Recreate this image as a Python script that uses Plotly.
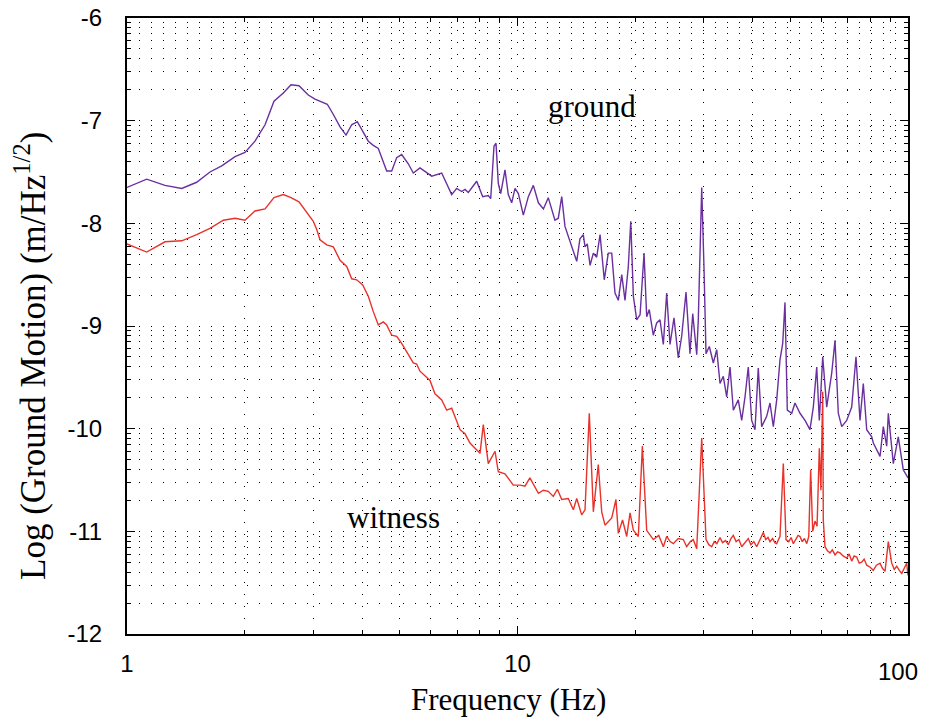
import math
import plotly.graph_objects as go

# ---------------- data ----------------
ground_freq = [1.00, 1.123, 1.251, 1.381, 1.508, 1.631, 1.748, 1.891, 2.005, 2.127,
               2.257, 2.379, 2.514, 2.630, 2.757, 2.912, 3.030, 3.258, 3.376, 3.512,
               3.638, 3.762, 3.889, 4.149, 4.273, 4.401, 4.624, 4.763, 4.905, 5.051,
               5.252, 5.410, 5.627, 6.030, 6.396, 6.784, 6.987, 7.196, 7.339, 7.482,
               7.862, 8.145, 8.418, 8.539, 8.706, 8.810, 8.929, 9.057, 9.290, 9.471,
               9.663, 9.854, 10.05, 10.35, 10.66, 10.98, 11.31, 11.65, 11.99, 12.47,
               12.72, 12.98, 13.23, 13.77, 14.18, 14.45, 14.74, 14.89, 15.09, 15.34,
               15.64, 15.95, 16.27, 16.68, 17.08, 17.43, 17.77, 18.12, 18.49, 18.85,
               19.22, 19.50, 19.80, 20.20, 20.60, 21.09, 21.42, 21.75, 22.27, 22.72,
               23.17, 23.63, 24.10, 24.58, 25.16, 25.81, 26.33, 27.01, 27.65, 28.10,
               28.77, 29.04, 29.63, 30.04, 30.39, 30.99, 31.73, 32.37, 33.01, 33.65,
               34.33, 35.01, 35.70, 36.76, 37.51, 38.25, 38.99, 39.78, 40.57, 41.36,
               42.20, 43.46, 44.32, 45.20, 46.11, 47.01, 47.77, 48.42, 49.08, 50.38,
               51.36, 52.90, 54.48, 56.10, 57.22, 58.38, 59.28, 60.48, 61.92, 63.77,
               65.03, 66.30, 67.65, 69.66, 71.75, 73.59, 75.36, 76.83, 78.39, 80.75,
               81.51, 84.79, 86.45, 88.20, 89.04, 91.70, 94.43, 97.25, 100.0]
ground_val = [-7.65, -7.57, -7.63, -7.66, -7.60, -7.50, -7.44, -7.35, -7.31, -7.20,
              -7.04, -6.81, -6.73, -6.65, -6.66, -6.75, -6.79, -6.84, -6.94, -7.06,
              -7.14, -7.04, -7.01, -7.20, -7.24, -7.27, -7.49, -7.49, -7.36, -7.33,
              -7.42, -7.51, -7.46, -7.54, -7.51, -7.72, -7.66, -7.69, -7.67, -7.70,
              -7.59, -7.74, -7.73, -7.76, -7.25, -7.22, -7.61, -7.71, -7.48, -7.72,
              -7.80, -7.66, -7.71, -7.92, -7.74, -7.63, -7.80, -7.86, -7.75, -7.97,
              -7.95, -7.74, -8.03, -8.23, -8.37, -8.15, -8.11, -8.23, -8.20, -8.41,
              -8.29, -8.33, -8.11, -8.55, -8.29, -8.29, -8.68, -8.75, -8.50, -8.75,
              -8.42, -7.98, -8.71, -8.94, -8.89, -8.29, -8.91, -8.84, -9.09, -8.97,
              -8.94, -9.18, -8.68, -9.18, -8.92, -9.31, -9.10, -8.67, -9.27, -8.88,
              -9.28, -8.94, -7.65, -8.45, -9.27, -9.20, -9.36, -9.23, -9.56, -9.49,
              -9.69, -9.40, -9.82, -9.72, -9.92, -9.69, -9.40, -9.92, -10.01, -9.41,
              -9.98, -9.88, -9.75, -9.98, -9.72, -9.33, -9.17, -8.77, -9.82, -9.85,
              -9.75, -9.85, -9.92, -10.01, -9.79, -9.40, -9.92, -9.30, -9.79, -9.46,
              -9.14, -9.85, -9.98, -9.92, -9.79, -9.30, -9.92, -9.56, -10.01, -10.08,
              -10.14, -10.27, -9.98, -10.17, -9.85, -10.34, -10.08, -10.40, -10.48]

witness_freq = [1.00, 1.123, 1.251, 1.381, 1.508, 1.631, 1.765, 1.891, 2.005, 2.127,
                2.257, 2.379, 2.514, 2.630, 2.757, 2.885, 3.000, 3.061, 3.121, 3.247,
                3.376, 3.512, 3.653, 3.762, 3.874, 4.014, 4.149, 4.273, 4.401, 4.533,
                4.624, 4.763, 4.905, 5.051, 5.203, 5.410, 5.519, 5.627, 5.969, 6.147,
                6.396, 6.588, 6.784, 6.987, 7.124, 7.339, 7.556, 8.017, 8.174, 8.418,
                8.759, 8.929, 9.290, 9.755, 10.15, 10.45, 10.76, 11.31, 11.65, 11.99,
                12.35, 12.65, 12.98, 13.49, 13.90, 14.18, 14.60, 14.89, 15.27, 15.64,
                16.10, 16.43, 16.75, 17.43, 17.87, 18.12, 18.58, 19.04, 19.42, 19.80,
                20.39, 20.88, 21.42, 22.27, 23.00, 23.63, 24.10, 24.60, 25.06, 25.80,
                26.58, 27.12, 27.70, 28.19, 28.77, 29.63, 30.04, 30.39, 30.90, 31.43,
                31.90, 32.40, 33.01, 33.50, 34.10, 34.66, 35.20, 35.70, 36.30, 36.90,
                37.51, 38.20, 38.99, 39.60, 40.30, 40.98, 41.70, 42.20, 42.62, 43.20,
                43.80, 44.32, 45.00, 45.60, 46.11, 46.60, 47.01, 47.94, 48.71, 49.50,
                50.20, 50.86, 51.60, 52.30, 52.90, 53.60, 54.30, 55.04, 55.70, 56.33,
                57.01, 57.79, 58.50, 59.28, 59.84, 60.48, 60.68, 61.30, 62.20, 63.14,
                64.00, 65.03, 66.00, 66.98, 68.20, 69.66, 70.70, 71.75, 72.80, 73.89,
                75.00, 76.11, 77.20, 78.39, 80.00, 81.51, 83.00, 84.79, 86.00, 87.33,
                89.04, 90.83, 92.20, 93.56, 95.00, 96.36, 97.80, 99.24, 100.0]
witness_val = [-8.20, -8.28, -8.18, -8.17, -8.11, -8.05, -7.97, -7.95, -7.97, -7.88,
               -7.86, -7.75, -7.72, -7.75, -7.79, -7.89, -7.98, -8.06, -8.16, -8.21,
               -8.23, -8.36, -8.42, -8.54, -8.55, -8.60, -8.71, -8.86, -8.99, -8.96,
               -8.99, -9.09, -9.10, -9.17, -9.25, -9.36, -9.37, -9.44, -9.53, -9.66,
               -9.72, -9.82, -9.80, -9.92, -10.01, -10.05, -10.14, -10.24, -9.96, -10.34,
               -10.22, -10.42, -10.44, -10.55, -10.55, -10.56, -10.48, -10.63, -10.60, -10.61,
               -10.66, -10.59, -10.69, -10.68, -10.79, -10.68, -10.84, -10.79, -9.85, -10.81,
               -10.35, -10.81, -10.94, -10.87, -10.69, -11.02, -10.89, -11.05, -10.82, -10.99,
               -11.05, -10.17, -10.99, -11.08, -11.04, -11.15, -11.05, -11.10, -11.12, -11.07,
               -11.08, -11.15, -11.10, -11.08, -11.17, -10.09, -10.70, -11.08, -11.13, -11.15,
               -11.10, -11.12, -11.06, -11.11, -11.09, -11.13, -11.07, -11.04, -11.10, -11.08,
               -11.15, -11.11, -11.07, -11.13, -11.10, -11.15, -11.09, -11.04, -11.01, -11.08,
               -11.06, -11.10, -11.07, -11.11, -11.12, -11.08, -11.05, -10.34, -11.08, -11.10,
               -11.06, -11.12, -11.08, -11.04, -11.05, -11.10, -11.07, -11.12, -11.05, -10.40,
               -11.00, -10.90, -10.95, -10.19, -10.60, -9.64, -10.89, -11.15, -11.19, -11.21,
               -11.18, -11.23, -11.20, -11.21, -11.24, -11.26, -11.22, -11.29, -11.24, -11.25,
               -11.31, -11.30, -11.27, -11.33, -11.35, -11.38, -11.33, -11.31, -11.36, -11.39,
               -11.10, -11.31, -11.37, -11.34, -11.38, -11.41, -11.36, -11.31, -11.43]

y_ticks = [-12, -11, -10, -9, -8, -7, -6]
y_tick_labels = ["-12", "-11", "-10", "-9", "-8", "-7", "-6"]
x_ticks = [1, 10, 100]
x_tick_labels = ["1", "10", ""]      # "100" is written separately, nudged left as in the original
x_last_label = "100"

# minor grid positions (log subdivisions)
x_minor = [m * d for d in (1, 10) for m in range(2, 10)]
y_minor = [base + math.log10(k) for base in range(-12, -6) for k in range(2, 10)]

PURPLE = "#6a309f"
RED = "#e8332b"
SERIF = "Liberation Serif, Times New Roman, serif"
SANS = "Liberation Sans, Arial, sans-serif"

# page body has an 8px margin: figure occupies page x 8..934, y 8..727
W, H = 926, 719
ML, MR, MT, MB = 119, 26, 10, 93
PW, PH = W - ML - MR, H - MT - MB   # plot area 781 x 616


def px(page_x):
    return (page_x - 8 - ML) / PW


def py(page_y):
    return (H - MB - (page_y - 8)) / PH


fig = go.Figure()
fig.add_trace(go.Scatter(x=ground_freq, y=ground_val, mode="lines",
                         line=dict(color=PURPLE, width=1.4), name="ground"))
fig.add_trace(go.Scatter(x=witness_freq, y=witness_val, mode="lines",
                         line=dict(color=RED, width=1.4), name="witness"))

dot = "1px,11px"
common = dict(showgrid=True, gridcolor="black", griddash=dot, gridwidth=1,
              ticks="inside", ticklen=8, tickcolor="black", tickwidth=1,
              showline=True, linecolor="black", linewidth=2, mirror="allticks",
              tickfont=dict(family=SANS, size=24, color="black"),
              ticklabeloverflow="allow",
              automargin=False, zeroline=False)
fig.update_xaxes(type="log", range=[0, 2],
                 tickvals=x_ticks, ticktext=x_tick_labels,
                 ticklabelstandoff=7,
                 minor=dict(tickvals=x_minor, ticks="inside", ticklen=4,
                            tickcolor="black", showgrid=True, gridcolor="black",
                            griddash=dot, gridwidth=1),
                 **common)
fig.update_yaxes(range=[-12, -6],
                 tickvals=y_ticks, ticktext=y_tick_labels,
                 ticklabelstandoff=18,
                 minor=dict(tickvals=y_minor, ticks="inside", ticklen=4,
                            tickcolor="black", showgrid=True, gridcolor="black",
                            griddash=dot, gridwidth=1),
                 **common)

fig.add_annotation(xref="paper", yref="paper", x=px(898), y=py(671),
                   xanchor="center", yanchor="middle", text=x_last_label,
                   showarrow=False, font=dict(family=SANS, size=24, color="black"))
fig.add_annotation(x=math.log10(15.5), y=-6.86, text="ground", showarrow=False,
                   xanchor="center", yanchor="middle",
                   font=dict(family=SERIF, size=31, color="black"))
fig.add_annotation(x=math.log10(4.8), y=-10.87, text="witness", showarrow=False,
                   xanchor="center", yanchor="middle",
                   font=dict(family=SERIF, size=31, color="black"))
fig.add_annotation(xref="paper", yref="paper", x=px(508), y=py(699),
                   xanchor="center", yanchor="middle",
                   text="Frequency (Hz)", showarrow=False,
                   font=dict(family=SERIF, size=31, color="black"))
fig.add_annotation(xref="paper", yref="paper", x=px(30), y=py(356),
                   xanchor="center", yanchor="middle",
                   text="Log (Ground Motion) (m/Hz<sup>1/2</sup>)", textangle=-90,
                   showarrow=False,
                   font=dict(family=SERIF, size=35, color="black"))

fig.update_layout(width=W, height=H,
                  margin=dict(l=ML, r=MR, t=MT, b=MB, autoexpand=False),
                  plot_bgcolor="white", paper_bgcolor="white",
                  showlegend=False)

fig.write_html("out.html")
